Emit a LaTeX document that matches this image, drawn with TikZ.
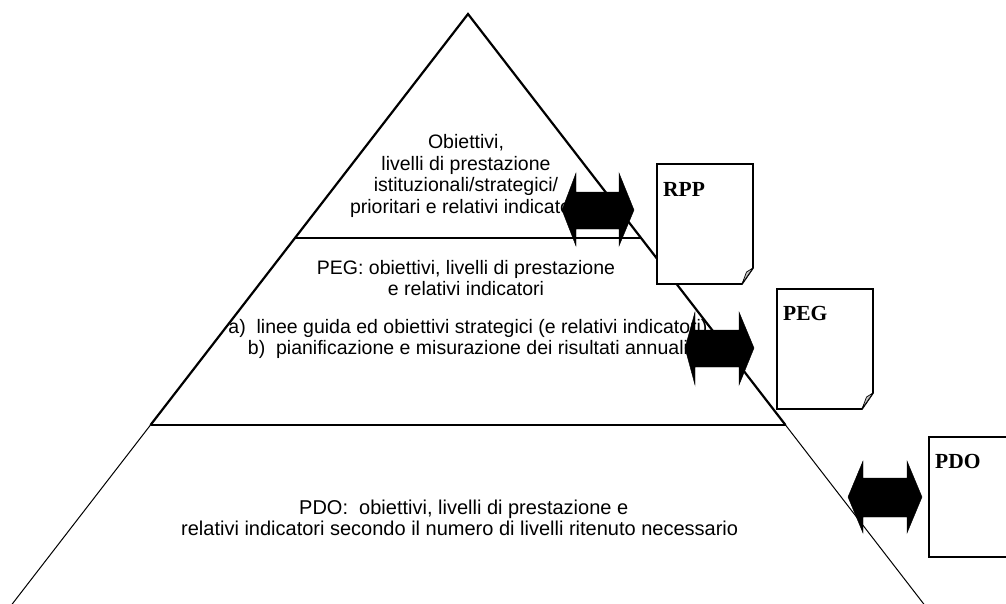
\documentclass[tikz,border=0pt]{standalone}
\usepackage{fontspec}
\setmainfont{Liberation Sans}
\newfontfamily\docfont{Liberation Serif}
\usetikzlibrary{calc}
\begin{document}
\begin{tikzpicture}[x=1pt,y=-1pt,
  thickside/.style={line width=2.2pt, line join=miter},
  thinside/.style={line width=1pt},
  band/.style={line width=1.3pt},
  lbl/.style={anchor=base, inner sep=0pt, font=\fontsize{19.5}{21.5}\selectfont},
  lblw/.style={lbl, anchor=base west},
  lblp/.style={lblw, font=\fontsize{20}{21.5}\selectfont},
  docshape/.style={draw=black, fill=white, line width=1.6pt, line join=miter},
  fold/.style={draw=black, fill=gray!45, line width=0.7pt, line join=round},
  dbl/.style={fill=black, draw=black, line width=0.4pt, line join=miter},
  doclabel/.style={anchor=base west, inner sep=0pt, font=\docfont\bfseries\fontsize{21.5}{24}\selectfont},
  docpic/.pic={
    \draw[docshape] (0,0) -- (96,0) -- (96,104) -- (85,120) -- (0,120) -- cycle;
    \draw[fold] (96,104) -- (89.5,108) -- (85,120) -- cycle;
  }
]
\useasboundingbox (0,0) rectangle (1006,603);
\clip (0,0) rectangle (1006,603);

% pyramid
\coordinate (A) at (468,14);
\coordinate (L0) at (13,603);
\coordinate (R0) at (923,603);
\coordinate (L1) at ($(A)!0.3803!(L0)$);
\coordinate (R1) at ($(A)!0.3803!(R0)$);
\coordinate (L2) at ($(A)!0.6978!(L0)$);
\coordinate (R2) at ($(A)!0.6978!(R0)$);
\coordinate (L3) at ($(A)!1.03!(L0)$);
\coordinate (R3) at ($(A)!1.03!(R0)$);

\draw[thickside] (L2) -- (A) -- (R2);
\draw[thinside] (L2) -- (L3);
\draw[thinside] (R2) -- (R3);
\draw[band] (L1) -- (R1);
\draw[band] (L2) -- (R2);

% texts
\node[lbl] (t1) at (466,148.3) {Obiettivi,};
\node[lbl] (t2) at (466,170) {livelli di prestazione};
\node[lbl] (t3) at (466,191.7) {istituzionali/strategici/};
\node[lbl] (t4) at (466,213) {prioritari e relativi indicatori};

\node[lbl] (p1) at (466,274) {PEG: obiettivi, livelli di prestazione};
\node[lbl] (p2) at (466,295.7) {e relativi indicatori};
\node[lbl] (p3) at (468,333) {a)\ \ linee guida ed obiettivi strategici (e relativi indicatori)};
\node[lbl] (p4) at (468,354.5) {b)\ \ pianificazione e misurazione dei risultati annuali};

\node[lblp] (d1) at (299,514) {PDO:\ \ obiettivi, livelli di prestazione e};
\node[lblp] (d2) at (181,535.5) {relativi indicatori secondo il numero di livelli ritenuto necessario};

% documents
\pic (rppdoc) at (657,164) {docpic};
\pic (pegdoc) at (777,289) {docpic};
\pic (pdodoc) at (929,437) {docpic};
\node[doclabel] (rpp) at (663,196) {RPP};
\node[doclabel] (peg) at (783,320) {PEG};
\node[doclabel] (pdo) at (935,468) {PDO};

% double arrows
\filldraw[dbl] (562,210) -- (576,173) -- (576,192) -- (619,192) -- (619,173) -- (634,210) -- (619,246) -- (619,229) -- (576,229) -- (576,246) -- cycle;
\filldraw[dbl] (685,348) -- (695,312) -- (695,330) -- (739,330) -- (739,312) -- (754,348) -- (739,385) -- (739,367) -- (695,367) -- (695,385) -- cycle;
\filldraw[dbl] (848,497) -- (863,461) -- (863,478) -- (907,478) -- (907,461) -- (922,497) -- (907,533) -- (907,517) -- (863,517) -- (863,533) -- cycle;
\end{tikzpicture}
\end{document}
